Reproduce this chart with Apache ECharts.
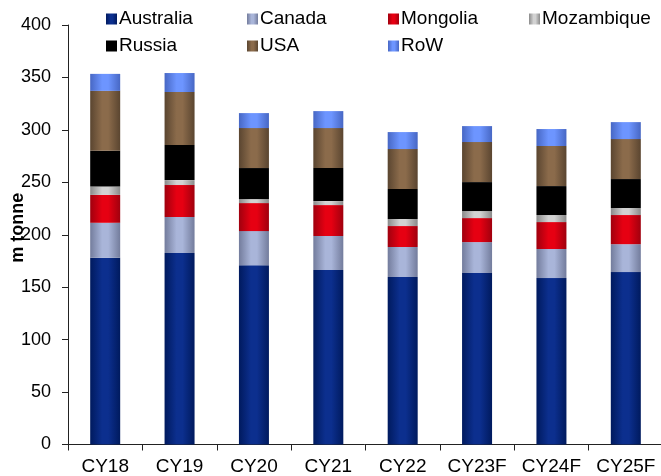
<!DOCTYPE html>
<html>
<head>
<meta charset="utf-8">
<script src="https://cdn.jsdelivr.net/npm/echarts@6/dist/echarts.min.js"></script>
<style>
  html, body { margin: 0; padding: 0; background: #fff; }
  #chart { width: 661px; height: 476px; }
</style>
</head>
<body>
<div id="chart"></div>
<script>
// Coal output by country, million tonnes
const categories = ['CY18', 'CY19', 'CY20', 'CY21', 'CY22', 'CY23F', 'CY24F', 'CY25F'];
const australia  = [178.0, 182.6, 171.0, 166.3, 159.7, 163.5, 158.7, 164.4];
const canada     = [33.4, 34.3, 32.5, 32.5, 28.6, 29.5, 27.7, 26.6];
const mongolia   = [26.6, 30.5, 26.7, 29.5, 20.0, 22.9, 25.7, 27.8];
const mozambique = [8.0, 4.7, 3.8, 3.8, 6.7, 6.7, 6.7, 6.7];
const russia     = [34.0, 33.4, 29.6, 31.5, 28.6, 27.6, 27.6, 27.6];
const usa        = [57.2, 50.6, 38.1, 38.1, 38.1, 38.2, 38.2, 38.1];
const row        = [16.2, 18.1, 14.3, 16.2, 16.2, 15.2, 16.2, 16.2];
const yTicks     = [0, 50, 100, 150, 200, 250, 300, 350, 400];

// Horizontal shading so each bar looks like a rounded column
function shade(edge, mid) {
  return {
    type: 'linear', x: 0, y: 0, x2: 1, y2: 0,
    colorStops: [
      { offset: 0, color: edge },
      { offset: 0.4, color: mid },
      { offset: 0.6, color: mid },
      { offset: 1, color: edge }
    ]
  };
}

const seriesDefs = [
  { name: 'Australia',  data: australia,  color: shade('#001a5e', '#0c2f8e') },
  { name: 'Canada',     data: canada,     color: shade('#737c9c', '#a9b5d9') },
  { name: 'Mongolia',   data: mongolia,   color: shade('#a0000e', '#e60012') },
  { name: 'Mozambique', data: mozambique, color: shade('#8a8a8a', '#d2d2d2') },
  { name: 'Russia',     data: russia,     color: '#000000' },
  { name: 'USA',        data: usa,        color: shade('#5a4530', '#8b6b4b') },
  { name: 'RoW',        data: row,        color: shade('#4767c4', '#6d95ff') }
];

const font = '"Liberation Sans", Arial, sans-serif';

function legendCol(left, names) {
  return {
    left: left, top: 8, orient: 'vertical',
    data: names, itemWidth: 11, itemHeight: 11, itemGap: 5,
    icon: 'rect', padding: 0,
    textStyle: { fontFamily: font, fontSize: 19, color: '#000', lineHeight: 22, padding: [0, 0, 0, -3] },
    selectedMode: false
  };
}

const chart = echarts.init(document.getElementById('chart'));
chart.setOption({
  animation: false,
  backgroundColor: '#fff',
  legend: [
    legendCol(106, ['Australia', 'Russia']),
    legendCol(247, ['Canada', 'USA']),
    legendCol(388, ['Mongolia', 'RoW']),
    legendCol(529, ['Mozambique'])
  ],
  grid: { left: 68, top: 25, width: 595, bottom: 31.5, containLabel: false, outerBoundsMode: 'none' },
  xAxis: {
    type: 'category',
    data: categories,
    boundaryGap: true,
    axisLine: { lineStyle: { color: '#222', width: 1 } },
    axisTick: { show: true, length: 6, inside: false, lineStyle: { color: '#222' } },
    axisLabel: { fontFamily: font, fontSize: 19, color: '#000', margin: 13, interval: 0 }
  },
  yAxis: {
    type: 'value',
    min: yTicks[0], max: yTicks[yTicks.length - 1], interval: 50,
    name: 'm tonne',
    nameLocation: 'middle',
    nameGap: 41,
    nameRotate: 90,
    nameMoveOverlap: false,
    nameTextStyle: { fontFamily: font, fontSize: 18, fontWeight: 'bold', color: '#000', padding: [0, 0, 0, 14] },
    splitLine: { show: false },
    axisLine: { show: true, lineStyle: { color: '#222', width: 1 } },
    axisTick: { show: true, length: 6, lineStyle: { color: '#222' } },
    axisLabel: { fontFamily: font, fontSize: 18, color: '#000', margin: 17 }
  },
  series: seriesDefs.map(s => ({
    name: s.name,
    type: 'bar',
    stack: 'total',
    barWidth: 30,
    data: s.data,
    itemStyle: { color: s.color },
    emphasis: { disabled: true }
  }))
});
</script>
</body>
</html>
